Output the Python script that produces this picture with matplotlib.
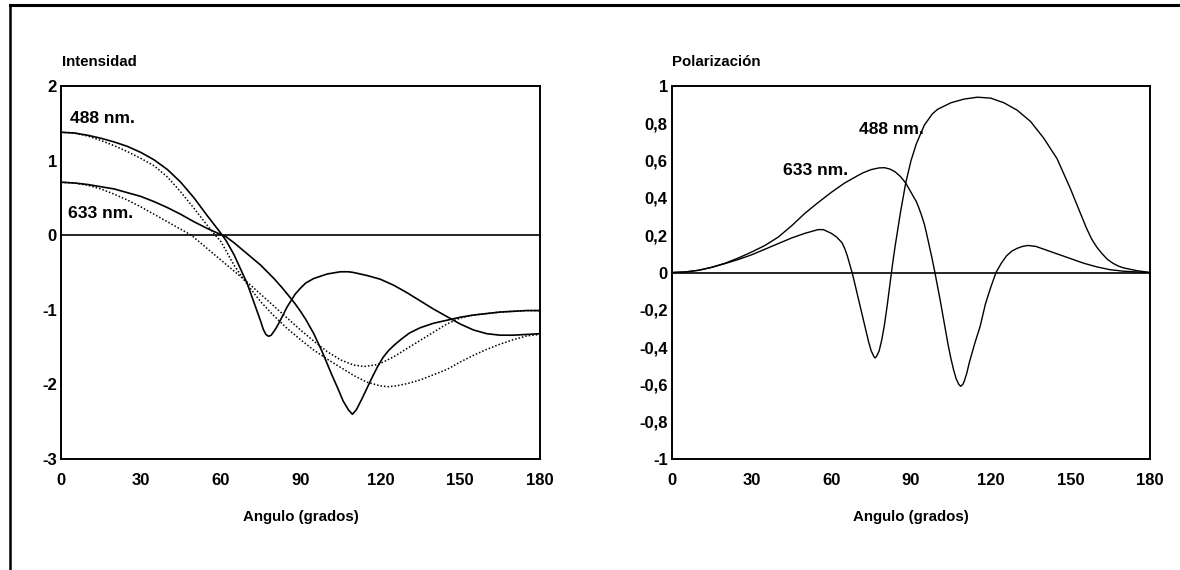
import matplotlib
matplotlib.use('Agg')
import matplotlib.pyplot as plt
from matplotlib.lines import Line2D

plt.rcParams['font.family'] = ['Liberation Sans', 'DejaVu Sans']
plt.rcParams['font.weight'] = 'bold'
plt.rcParams['axes.unicode_minus'] = False

# -----------------------------------------------------------------------
# Intensidad (panel izquierdo): curvas continuas y punteadas
# -----------------------------------------------------------------------
ang_i488 = [0, 5, 10, 15, 20, 25, 30, 35, 40, 45, 50, 55, 60, 62, 65, 70, 73, 75,
            76, 77, 78, 79, 80, 81, 82, 83, 85, 88, 90, 92, 95, 100, 105, 108, 110,
            115, 120, 125, 130, 135, 140, 145, 150, 155, 160, 165, 170, 175, 180]
int_488 = [1.38, 1.37, 1.34, 1.30, 1.25, 1.19, 1.11, 1.01, 0.88, 0.71, 0.50, 0.26,
           0.03, -0.07, -0.26, -0.65, -0.95, -1.15, -1.26, -1.33, -1.355, -1.34,
           -1.29, -1.235, -1.17, -1.10, -0.96, -0.79, -0.71, -0.64, -0.58, -0.52,
           -0.49, -0.49, -0.50, -0.54, -0.59, -0.67, -0.77, -0.88, -0.99, -1.09,
           -1.19, -1.27, -1.32, -1.34, -1.34, -1.33, -1.32]

ang_i633 = [0, 5, 10, 15, 20, 25, 30, 35, 40, 45, 50, 55, 60, 62, 65, 70, 75, 80,
            83, 86, 88, 90, 92, 95, 98, 100, 102, 104, 106, 108, 109.5, 111, 113,
            115, 117, 119, 121, 123, 125, 128, 131, 135, 140, 145, 150, 155, 160,
            165, 170, 175, 180]
int_633 = [0.71, 0.70, 0.68, 0.65, 0.62, 0.57, 0.52, 0.45, 0.37, 0.28, 0.18, 0.09,
           0.01, -0.02, -0.10, -0.25, -0.40, -0.58, -0.70, -0.83, -0.92, -1.02,
           -1.13, -1.32, -1.55, -1.72, -1.89, -2.05, -2.22, -2.34, -2.40, -2.34,
           -2.20, -2.05, -1.90, -1.76, -1.64, -1.55, -1.48, -1.39, -1.31, -1.24,
           -1.18, -1.14, -1.10, -1.07, -1.05, -1.03, -1.02, -1.01, -1.01]

ang_d488 = [0, 5, 10, 15, 20, 25, 30, 35, 40, 45, 50, 55, 58, 60, 65, 70, 75, 80,
            85, 90, 95, 100, 105, 110, 115, 120, 123, 126, 130, 135, 140, 145, 150,
            155, 160, 165, 170, 175, 180]
int_d488 = [1.38, 1.37, 1.33, 1.27, 1.20, 1.12, 1.03, 0.93, 0.78, 0.58, 0.36, 0.13,
            0.0, -0.08, -0.40, -0.66, -0.89, -1.08, -1.25, -1.40, -1.54, -1.66,
            -1.77, -1.88, -1.97, -2.02, -2.03, -2.02, -1.99, -1.94, -1.87, -1.80,
            -1.70, -1.61, -1.53, -1.46, -1.40, -1.35, -1.33]

ang_d633 = [0, 5, 10, 15, 20, 25, 30, 35, 40, 45, 49, 55, 60, 65, 70, 75, 80, 85,
            90, 95, 100, 105, 110, 114, 118, 120, 125, 130, 135, 140, 145, 150, 155,
            160, 165, 170, 175, 180]
int_d633 = [0.71, 0.70, 0.67, 0.62, 0.55, 0.47, 0.38, 0.28, 0.18, 0.08, 0.0, -0.18,
            -0.33, -0.48, -0.63, -0.79, -0.95, -1.11, -1.27, -1.42, -1.56, -1.67,
            -1.74, -1.76, -1.74, -1.72, -1.63, -1.52, -1.41, -1.30, -1.19, -1.11,
            -1.07, -1.05, -1.03, -1.02, -1.01, -1.01]

# -----------------------------------------------------------------------
# Polarización (panel derecho)
# -----------------------------------------------------------------------
ang_p488 = [0, 5, 10, 15, 20, 25, 30, 35, 40, 45, 50, 55, 57, 60, 62, 64, 65, 66,
            67, 68, 69, 70, 71, 72, 73, 74, 75, 76, 76.5, 77, 78, 79, 80, 81, 82,
            83, 84, 85, 86, 87, 88, 89, 90, 92, 95, 98, 100, 105, 110, 115, 120,
            125, 130, 135, 140, 145, 150, 152, 154, 156, 158, 160, 162, 164, 166,
            168, 170, 175, 180]
pol_488 = [0.0, 0.003, 0.012, 0.028, 0.048, 0.07, 0.095, 0.125, 0.155, 0.185, 0.21,
           0.23, 0.23, 0.21, 0.19, 0.16, 0.13, 0.09, 0.04, -0.01, -0.07, -0.13,
           -0.19, -0.25, -0.31, -0.37, -0.42, -0.45, -0.458, -0.45, -0.42, -0.36,
           -0.28, -0.18, -0.07, 0.04, 0.14, 0.23, 0.32, 0.40, 0.48, 0.54, 0.60,
           0.69, 0.79, 0.85, 0.875, 0.91, 0.93, 0.94, 0.935, 0.91, 0.87, 0.81,
           0.72, 0.61, 0.45, 0.38, 0.31, 0.24, 0.18, 0.135, 0.10, 0.07, 0.05, 0.035,
           0.025, 0.01, 0.0]

ang_p633 = [0, 5, 10, 15, 20, 25, 30, 35, 40, 45, 50, 55, 60, 65, 70, 72, 75, 78,
            80, 82, 84, 86, 88, 90, 92, 93, 94, 95, 96, 97, 98, 99, 100, 101, 102,
            103, 104, 105, 106, 107, 108, 108.7, 109.5, 110, 111, 112, 114, 116,
            118, 120, 122, 124, 126, 128, 130, 132, 134, 137, 140, 145, 150, 155,
            160, 165, 170, 175, 180]
pol_633 = [0.0, 0.003, 0.012, 0.028, 0.05, 0.078, 0.11, 0.145, 0.19, 0.25, 0.317,
           0.375, 0.43, 0.48, 0.52, 0.535, 0.552, 0.561, 0.562, 0.555, 0.54, 0.515,
           0.48, 0.43, 0.38, 0.345, 0.305, 0.26, 0.20, 0.135, 0.07, 0.0, -0.075,
           -0.15, -0.23, -0.31, -0.39, -0.46, -0.52, -0.57, -0.60, -0.61, -0.60,
           -0.585, -0.54, -0.48, -0.38, -0.29, -0.17, -0.08, 0.0, 0.05, 0.09,
           0.115, 0.13, 0.14, 0.145, 0.14, 0.125, 0.10, 0.075, 0.05, 0.03, 0.015,
           0.007, 0.003, 0.0]

x_ticks = [0, 30, 60, 90, 120, 150, 180]
int_ticks = [-3, -2, -1, 0, 1, 2]
pol_ticks = [-1, -0.8, -0.6, -0.4, -0.2, 0, 0.2, 0.4, 0.6, 0.8, 1]
pol_ticklabels = ['-1', '-0,8', '-0,6', '-0,4', '-0,2', '0', '0,2', '0,4', '0,6',
                  '0,8', '1']

FS = 10.8      # títulos de ejes
FS_TICK = 12   # números de los ejes
FS_LBL = 12.6  # etiquetas de las curvas

fig = plt.figure(figsize=(11.8, 5.7), dpi=100)
ax1 = fig.add_axes([0.0517, 0.1947, 0.4059, 0.6544])
ax2 = fig.add_axes([0.5695, 0.1947, 0.4051, 0.6544])

dotted = (0, (1.0, 1.3))

ax1.plot(ang_i488, int_488, color='black', lw=1.2)
ax1.plot(ang_i633, int_633, color='black', lw=1.2)
ax1.plot(ang_d488, int_d488, color='black', lw=1.1, linestyle=dotted)
ax1.plot(ang_d633, int_d633, color='black', lw=1.1, linestyle=dotted)
ax1.axhline(0, color='black', lw=1.2)
ax1.set_xlim(0, 180)
ax1.set_ylim(-3, 2)
ax1.set_yticks(int_ticks)
ax1.text(3.4, 1.505, '488 nm.', fontsize=FS_LBL, fontweight='bold', va='baseline')
ax1.text(2.6, 0.23, '633 nm.', fontsize=FS_LBL, fontweight='bold', va='baseline')
ax1.text(0.003, 1.054, 'Intensidad', transform=ax1.transAxes, fontsize=FS,
         fontweight='bold', va='baseline')

ax2.plot(ang_p488, pol_488, color='black', lw=1.0)
ax2.plot(ang_p633, pol_633, color='black', lw=1.0)
ax2.axhline(0, color='black', lw=1.2)
ax2.set_xlim(0, 180)
ax2.set_ylim(-1, 1)
ax2.set_yticks(pol_ticks)
ax2.set_yticklabels(pol_ticklabels)
ax2.text(70.4, 0.743, '488 nm.', fontsize=FS_LBL, fontweight='bold', va='baseline')
ax2.text(41.9, 0.523, '633 nm.', fontsize=FS_LBL, fontweight='bold', va='baseline')
ax2.text(0.0, 1.054, 'Polarización', transform=ax2.transAxes, fontsize=FS,
         fontweight='bold', va='baseline')

for ax in (ax1, ax2):
    ax.set_xticks(x_ticks)
    ax.tick_params(axis='both', length=0, labelsize=FS_TICK)
    ax.tick_params(axis='x', pad=10)
    ax.tick_params(axis='y', pad=3)
    for lab in ax.get_xticklabels() + ax.get_yticklabels():
        lab.set_fontweight('bold')
    for sp in ax.spines.values():
        sp.set_linewidth(1.4)
    ax.set_xlabel('Angulo (grados)', fontsize=FS, fontweight='bold', labelpad=16)

# marco exterior de la figura (arriba e izquierda)
fig.add_artist(Line2D([0.0085, 1.0], [0.991, 0.991], color='black', lw=2.2,
                      transform=fig.transFigure))
fig.add_artist(Line2D([0.0085, 0.0085], [0.0, 0.991], color='black', lw=1.8,
                      transform=fig.transFigure))

fig.savefig('out.png', dpi=100)
